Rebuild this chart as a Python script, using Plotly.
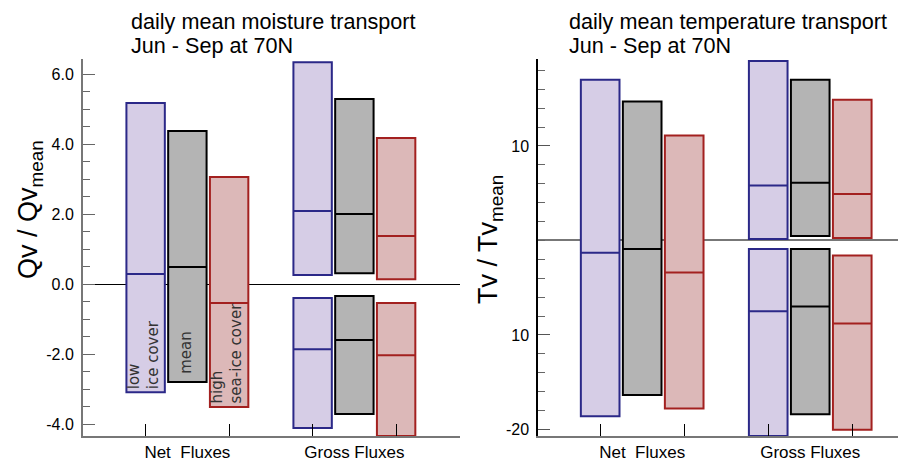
import plotly.graph_objects as go

# ---------------- data ----------------
# positions: Net fluxes at 0,1,2 ; Gross fluxes at 4,5,6
pos_low = [0, 4, 4]
pos_mean = [1, 5, 5]
pos_high = [2, 6, 6]

# moisture transport (Qv / Qv_mean): [net, gross positive, gross negative]
qv_low_min = [-3.09, 0.26, -4.11]
qv_low_mid = [0.29, 2.09, -1.86]
qv_low_max = [5.17, 6.34, -0.40]
qv_mean_min = [-2.80, 0.31, -3.71]
qv_mean_mid = [0.49, 2.00, -1.60]
qv_mean_max = [4.37, 5.29, -0.34]
qv_high_min = [-3.51, 0.14, -4.34]
qv_high_mid = [-0.54, 1.37, -2.03]
qv_high_max = [3.06, 4.17, -0.54]

# temperature transport (Tv / Tv_mean)
tv_low_min = [-18.6, 0.16, -20.7]
tv_low_mid = [-1.3, 5.8, -7.5]
tv_low_max = [17.0, 19.0, -0.9]
tv_mean_min = [-16.35, 0.48, -18.4]
tv_mean_mid = [-0.9, 6.1, -7.0]
tv_mean_max = [14.7, 17.0, -0.9]
tv_high_min = [-17.8, 0.26, -20.05]
tv_high_mid = [-3.4, 4.9, -8.8]
tv_high_max = [11.1, 14.9, -1.6]

cat_label_pos = [1, 5]
cat_text = ["Net\u00a0 Fluxes", "Gross Fluxes"]
cat_tick_pos = [0, 2, 4, 6]
qv_tickvals = [-4, -2, 0, 2, 4, 6]
qv_ticktext = ["-4.0", "-2.0", "0.0", "2.0", "4.0", "6.0"]
tv_tickvals = [10, -10, -20]
tv_ticktext = ["10", "10", "-20"]

# ---------------- styles ----------------
styles = {
    "low": dict(line="#2b2888", fill="rgba(214,205,230,1)"),
    "mean": dict(line="#000000", fill="rgba(180,180,180,1)"),
    "high": dict(line="#a3201f", fill="rgba(220,184,184,1)"),
}

fig = go.Figure()

def add_boxes(x, lo, mid, hi, key, xa, ya):
    s = styles[key]
    fig.add_trace(go.Box(
        x=x, q1=lo, median=mid, q3=hi, lowerfence=lo, upperfence=hi,
        width=0.92, whiskerwidth=0, boxpoints=False,
        line=dict(color=s["line"], width=2), fillcolor=s["fill"],
        xaxis=xa, yaxis=ya, showlegend=False, hoverinfo="skip"))

add_boxes(pos_low, qv_low_min, qv_low_mid, qv_low_max, "low", "x", "y")
add_boxes(pos_mean, qv_mean_min, qv_mean_mid, qv_mean_max, "mean", "x", "y")
add_boxes(pos_high, qv_high_min, qv_high_mid, qv_high_max, "high", "x", "y")
add_boxes(pos_low, tv_low_min, tv_low_mid, tv_low_max, "low", "x2", "y2")
add_boxes(pos_mean, tv_mean_min, tv_mean_mid, tv_mean_max, "mean", "x2", "y2")
add_boxes(pos_high, tv_high_min, tv_high_mid, tv_high_max, "high", "x2", "y2")

W, H = 906, 464
OFF = 8  # page body margin offset
mt, mb = 59 - OFF, H - (436 - OFF)
ph = H - mt - mb

def px(xref):
    return (xref - OFF) / W

def py(yref):
    return (H - mb - (yref - OFF)) / ph

tick_font = dict(family="Liberation Sans, Arial, sans-serif", size=16, color="#000")
xtick_font = dict(family="Liberation Sans, Arial, sans-serif", size=17, color="#000")

xcommon = dict(tickvals=cat_label_pos, ticktext=cat_text, ticks="",
               minor=dict(tickvals=cat_tick_pos, ticks="inside", ticklen=12,
                          tickcolor="#000", tickwidth=1, showgrid=False),
               showline=True, linecolor="#777",
               linewidth=1.5, showgrid=False, zeroline=False, tickfont=xtick_font,
               layer="above traces")

fig.update_layout(
    width=W, height=H,
    margin=dict(l=0, r=0, t=mt, b=mb),
    paper_bgcolor="white", plot_bgcolor="white",
    boxmode="overlay",
    xaxis=dict(domain=[px(83), px(460)], range=[-1.5, 7.53], anchor="y", **xcommon),
    xaxis2=dict(domain=[px(538), 1.0], range=[-1.48, 7.47], anchor="y2", **xcommon),
    yaxis=dict(domain=[0, 1], range=[-4.34, 6.43], anchor="x",
               tickvals=qv_tickvals, ticktext=qv_ticktext,
               ticks="inside", ticklen=12, tickcolor="#666", tickwidth=1,
               minor=dict(dtick=0.5, tick0=0, ticks="inside", ticklen=7, tickcolor="#666", showgrid=False),
               showline=True, linecolor="#777", linewidth=2, showgrid=False,
               zeroline=True, zerolinecolor="#000", zerolinewidth=1.2,
               ticklabelstandoff=4, tickfont=tick_font, layer="above traces"),
    yaxis2=dict(domain=[0, 1], range=[-20.7, 19.2], anchor="x2",
                tickvals=tv_tickvals, ticktext=tv_ticktext,
                ticks="inside", ticklen=12, tickcolor="#555", tickwidth=1,
                minor=dict(dtick=2, tick0=0, ticks="inside", ticklen=7, tickcolor="#666", showgrid=False),
                showline=True, linecolor="#000", linewidth=1.5, showgrid=False,
                zeroline=True, zerolinecolor="#777", zerolinewidth=1.5,
                ticklabelstandoff=4, tickfont=tick_font, layer="above traces"),
)

title_font = dict(family="Liberation Sans, Arial, sans-serif", size=21.6, color="#000")
annots = [
    dict(text="daily mean moisture transport", x=px(129), y=py(22)),
    dict(text="Jun - Sep at 70N", x=px(129), y=py(46)),
    dict(text="daily mean temperature transport", x=px(567), y=py(22)),
    dict(text="Jun - Sep at 70N", x=px(567), y=py(46)),
]
for a in annots:
    fig.add_annotation(xref="paper", yref="paper", xanchor="left", yanchor="middle",
                       showarrow=False, font=title_font, **a)

ytitle_font = dict(family="Liberation Sans, Arial, sans-serif", size=27, color="#000")
fig.add_annotation(text="Qv / Qv<sub>mean</sub>", xref="paper", yref="paper",
                   x=px(30), y=py(210), textangle=-90, showarrow=False,
                   xanchor="center", yanchor="middle", font=ytitle_font)
fig.add_annotation(text="Tv / Tv<sub>mean</sub>", xref="paper", yref="paper",
                   x=px(490), y=py(240), textangle=-90, showarrow=False,
                   xanchor="center", yanchor="middle", font=ytitle_font)

inner_font = dict(family="DejaVu Sans, sans-serif", size=15, color="#333")
for txt, xv, yv in [("low<br>ice cover", -0.05, -3.06),
                    ("mean", 0.98, -2.62),
                    ("high<br>sea-ice cover", 1.95, -3.48)]:
    fig.add_annotation(text=txt, xref="x", yref="y", x=xv, y=yv, textangle=-90,
                       showarrow=False, xanchor="center", yanchor="bottom",
                       align="left", font=inner_font)

fig.write_html("out.html")
